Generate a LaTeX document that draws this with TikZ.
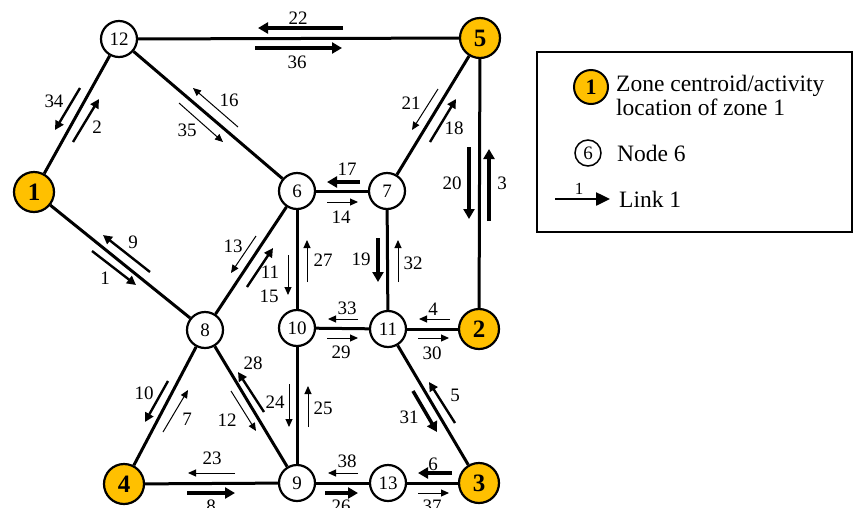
\documentclass[tikz,border=0pt]{standalone}
\usepackage{fontspec}
\setmainfont{Liberation Serif}
\usetikzlibrary{arrows.meta}
\definecolor{zoneyellow}{RGB}{255,192,0}
\begin{document}
\begin{tikzpicture}[x=1pt,y=-1pt,
 nd/.style={circle,draw,line width=2.2pt,fill=white,minimum size=36pt,inner sep=0pt,font=\fontsize{19}{19}\selectfont},
 zone/.style={circle,draw,line width=2.2pt,fill=zoneyellow,minimum size=40pt,inner sep=0pt,font=\fontsize{25}{25}\selectfont\bfseries},
 edge/.style={line width=3pt},
 lkA/.style={line width=3.5pt,-{Triangle[length=10pt,width=11pt]}},
 lkB/.style={line width=2.4pt,-{Triangle[length=9pt,width=9pt]}},
 lkC/.style={line width=1pt,-{Triangle[length=8pt,width=7pt]}},
 lb/.style={font=\fontsize{19}{19}\selectfont,inner sep=0pt},
 legtxt/.style={font=\fontsize{23.5}{24}\selectfont,inner sep=0pt,anchor=west,align=left}
]
\useasboundingbox (0,0) rectangle (855,507);
% nodes
\node[nd] (n12) at (119,39) {12};
\node[zone] (n5) at (480,38) {5};
\node[zone] (n1) at (34,192) {1};
\node[nd] (n6) at (297,191) {6};
\node[nd] (n7) at (387,191) {7};
\node[nd] (n8) at (205,330) {8};
\node[nd] (n10) at (297,328) {10};
\node[nd] (n11) at (388,329) {11};
\node[zone] (n2) at (479,329) {2};
\node[zone] (n4) at (124,484) {4};
\node[nd] (n9) at (297,483) {9};
\node[nd] (n13) at (388,483) {13};
\node[zone] (n3) at (479,483) {3};
% edges
\draw[edge] (n12) -- (n5);
\draw[edge] (n12) -- (n1);
\draw[edge] (n12) -- (n6);
\draw[edge] (n1) -- (n8);
\draw[edge] (n6) -- (n8);
\draw[edge] (n6) -- (n7);
\draw[edge] (n6) -- (n10);
\draw[edge] (n7) -- (n5);
\draw[edge] (n7) -- (n11);
\draw[edge] (n5) -- (n2);
\draw[edge] (n10) -- (n11);
\draw[edge] (n11) -- (n2);
\draw[edge] (n10) -- (n9);
\draw[edge] (n8) -- (n4);
\draw[edge] (n8) -- (n9);
\draw[edge] (n11) -- (n3);
\draw[edge] (n4) -- (n9);
\draw[edge] (n9) -- (n13);
\draw[edge] (n13) -- (n3);
% link arrows
\draw[lkA] (343,28) -- (258,28); \node[lb] (l22) at (298,18) {22};
\draw[lkA] (255,48) -- (342,48); \node[lb] (l36) at (297,62) {36};
\draw[lkB] (80,88) -- (55,130); \node[lb] (l34) at (54,101) {34};
\draw[lkB] (73,142) -- (99,99); \node[lb] (l2) at (97,127) {2};
\draw[lkC] (238,127) -- (193,88); \node[lb] (l16) at (229,100) {16};
\draw[lkC] (179,103) -- (223,142); \node[lb] (l35) at (187,130) {35};
\draw[lkB] (150,272) -- (103,235); \node[lb] (l9) at (133,242) {9};
\draw[lkB] (92,251) -- (136,285); \node[lb] (l1) at (105,278) {1};
\draw[lkC] (256,236) -- (231,273); \node[lb] (l13) at (233,246) {13};
\draw[lkB] (247,287) -- (273,248); \node[lb] (l11) at (270,272) {11};
\draw[lkC] (288,255) -- (288,295); \node[lb] (l15) at (269,296) {15};
\draw[lkC] (307,282) -- (307,240); \node[lb] (l27) at (323,260) {27};
\draw[lkA] (360,182) -- (327,182); \node[lb] (l17) at (347,169) {17};
\draw[lkC] (327,202) -- (358,202); \node[lb] (l14) at (341,217) {14};
\draw[lkC] (438,89) -- (412,130); \node[lb] (l21) at (411,103) {21};
\draw[lkB] (430,142) -- (456,99); \node[lb] (l18) at (454,128) {18};
\draw[lkA] (469,147) -- (469,219); \node[lb] (l20) at (452,183) {20};
\draw[lkA] (489,221) -- (489,149); \node[lb] (l3) at (502,183) {3};
\draw[lkA] (378,238) -- (378,282); \node[lb] (l19) at (361,259) {19};
\draw[lkC] (398,282) -- (398,240); \node[lb] (l32) at (413,263) {32};
\draw[lkC] (358,319) -- (328,319); \node[lb] (l33) at (347,308) {33};
\draw[lkC] (327,338) -- (358,338); \node[lb] (l29) at (341,352) {29};
\draw[lkC] (450,319) -- (419,319); \node[lb] (l4) at (433,309) {4};
\draw[lkC] (418,338) -- (449,338); \node[lb] (l30) at (432,353) {30};
\draw[lkC] (289,384) -- (289,427); \node[lb] (l24) at (275,402) {24};
\draw[lkC] (308,427) -- (308,386); \node[lb] (l25) at (323,408) {25};
\draw[lkB] (168,381) -- (145,422); \node[lb] (l10) at (144,393) {10};
\draw[lkC] (163,432) -- (188,390); \node[lb] (l7) at (187,419) {7};
\draw[lkB] (264,412) -- (238,372); \node[lb] (l28) at (253,363) {28};
\draw[lkC] (231,391) -- (256,431); \node[lb] (l12) at (227,420) {12};
\draw[lkC] (235,473) -- (188,473); \node[lb] (l23) at (212,458) {23};
\draw[lkA] (187,493) -- (235,493); \node[lb] (l8) at (211,506) {8};
\draw[lkC] (358,473) -- (328,473); \node[lb] (l38) at (347,461) {38};
\draw[lkA] (325,493) -- (358,493); \node[lb] (l26) at (341,506) {26};
\draw[lkA] (452,473) -- (418,473); \node[lb] (l6) at (433,464) {6};
\draw[lkC] (418,493) -- (449,493); \node[lb] (l37) at (432,506) {37};
\draw[lkB] (455,423) -- (429,382); \node[lb] (l5) at (455,395) {5};
\draw[lkA] (413,391) -- (437,432); \node[lb] (l31) at (409,417) {31};
% legend
\draw[line width=1.5pt] (537,52) rectangle (852,232);
\node[circle,draw,line width=2pt,fill=zoneyellow,minimum size=34pt,inner sep=0pt,font=\fontsize{22}{22}\selectfont\bfseries] (lgz) at (591,87) {1};
\node[legtxt] (lgzt) at (616,95) {Zone centroid/activity\\location of zone 1};
\node[circle,draw,line width=1.5pt,fill=white,minimum size=26pt,inner sep=0pt,font=\fontsize{19}{19}\selectfont] (lgn) at (588,153) {6};
\node[legtxt] (lgnt) at (617,153) {Node 6};
\coordinate (la) at (555,199);
\coordinate (lb2) at (610,199);
\draw[line width=2.5pt,-{Triangle[length=14pt,width=13pt]}] (la) -- (lb2);
\node[font=\fontsize{17}{17}\selectfont,inner sep=0pt] (lgl1) at (579,189) {1};
\node[legtxt] (lglt) at (619,199) {Link 1};
\end{tikzpicture}
\end{document}
